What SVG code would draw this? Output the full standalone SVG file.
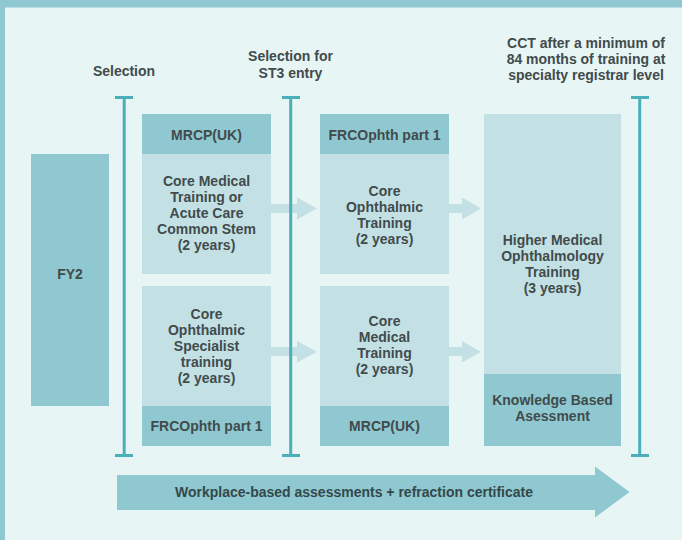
<svg xmlns="http://www.w3.org/2000/svg" width="682" height="540" viewBox="0 0 682 540">
<style>
text{font-family:"Liberation Sans",Arial,sans-serif;font-weight:700;font-size:14px;fill:#414b4c;text-anchor:middle}
.dark{fill:#8fc8d0}
.light{fill:#c3e1e5}
.br{stroke:#4aafb8;stroke-width:3;fill:none}
.arr{fill:#c3e1e5}
.big{fill:#8fc8d0}
.bt{fill:#33484a}
</style>
<rect x="0" y="0" width="682" height="540" fill="#e8f5f5"/>
<rect x="0" y="0" width="682" height="7.5" fill="#8fc8d0"/>
<rect x="0" y="0" width="5" height="540" fill="#8fc8d0"/>

<g id="labels">
<text x="124" y="76">Selection</text>
<text x="290.5" y="61">Selection for</text>
<text x="290.5" y="77.5">ST3 entry</text>
<text x="586" y="47.5">CCT after a minimum of</text>
<text x="586" y="64">84 months of training at</text>
<text x="586" y="80">specialty registrar level</text>
</g>

<g id="connectors">
<polygon class="arr" points="271,204 297,204 297,197.5 317,208.5 297,219.5 297,213 271,213"/>
<polygon class="arr" points="449,204 462,204 462,197.5 481,208.5 462,219.5 462,213 449,213"/>
<polygon class="arr" points="271,347 297,347 297,341 317,351.8 297,362.6 297,356 271,356"/>
<polygon class="arr" points="449,347 462,347 462,341 481,351.8 462,362.6 462,356 449,356"/>
</g>

<g id="fy2">
<rect class="dark" x="31" y="154" width="78" height="252"/>
<text x="70" y="279">FY2</text>
</g>

<g id="core-medical-acccs">
<rect class="dark" x="142" y="114" width="129" height="40"/>
<rect class="light" x="142" y="154" width="129" height="120"/>
<text x="206.5" y="139.5">MRCP(UK)</text>
<text x="206.5" y="185.5">Core Medical</text>
<text x="206.5" y="201.5">Training or</text>
<text x="206.5" y="217.5">Acute Care</text>
<text x="206.5" y="233.5">Common Stem</text>
<text x="206.5" y="249.5">(2 years)</text>
</g>

<g id="core-ophthalmic-specialist">
<rect class="light" x="142" y="286" width="129" height="120"/>
<rect class="dark" x="142" y="406" width="129" height="40"/>
<text x="206.5" y="319">Core</text>
<text x="206.5" y="335">Ophthalmic</text>
<text x="206.5" y="351">Specialist</text>
<text x="206.5" y="367">training</text>
<text x="206.5" y="383">(2 years)</text>
<text x="206.5" y="430.5">FRCOphth part 1</text>
</g>

<g id="core-ophthalmic-training">
<rect class="dark" x="320" y="114" width="129" height="40"/>
<rect class="light" x="320" y="154" width="129" height="120"/>
<text x="384.5" y="139.5">FRCOphth part 1</text>
<text x="384.5" y="196">Core</text>
<text x="384.5" y="212">Ophthalmic</text>
<text x="384.5" y="228">Training</text>
<text x="384.5" y="244">(2 years)</text>
</g>

<g id="core-medical-training">
<rect class="light" x="320" y="286" width="129" height="120"/>
<rect class="dark" x="320" y="406" width="129" height="40"/>
<text x="384.5" y="325.5">Core</text>
<text x="384.5" y="341.5">Medical</text>
<text x="384.5" y="357.5">Training</text>
<text x="384.5" y="373.5">(2 years)</text>
<text x="384.5" y="430.5">MRCP(UK)</text>
</g>

<g id="higher-medical-ophthalmology">
<rect class="light" x="484" y="114" width="137" height="260"/>
<rect class="dark" x="484" y="374" width="137" height="72"/>
<text x="552.5" y="244.5">Higher Medical</text>
<text x="552.5" y="260.5">Ophthalmology</text>
<text x="552.5" y="276.5">Training</text>
<text x="552.5" y="292.5">(3 years)</text>
<text x="552.5" y="405">Knowledge Based</text>
<text x="552.5" y="421">Asessment</text>
</g>

<g id="brackets">
<path class="br" d="M115,97.5H133M124.2,97.5V455.5M115,455.5H133"/>
<path class="br" d="M282,97.5H300M290.7,97.5V455.5M282,455.5H300"/>
<path class="br" d="M631,97.5H649M639.7,97.5V455.5M631,455.5H649"/>
</g>

<g id="workplace-arrow">
<polygon class="big" points="117,475 595,475 595,466.5 629.5,492 595,517.5 595,510 117,510"/>
<text class="bt" x="354" y="497">Workplace-based assessments + refraction certificate</text>
</g>
</svg>
